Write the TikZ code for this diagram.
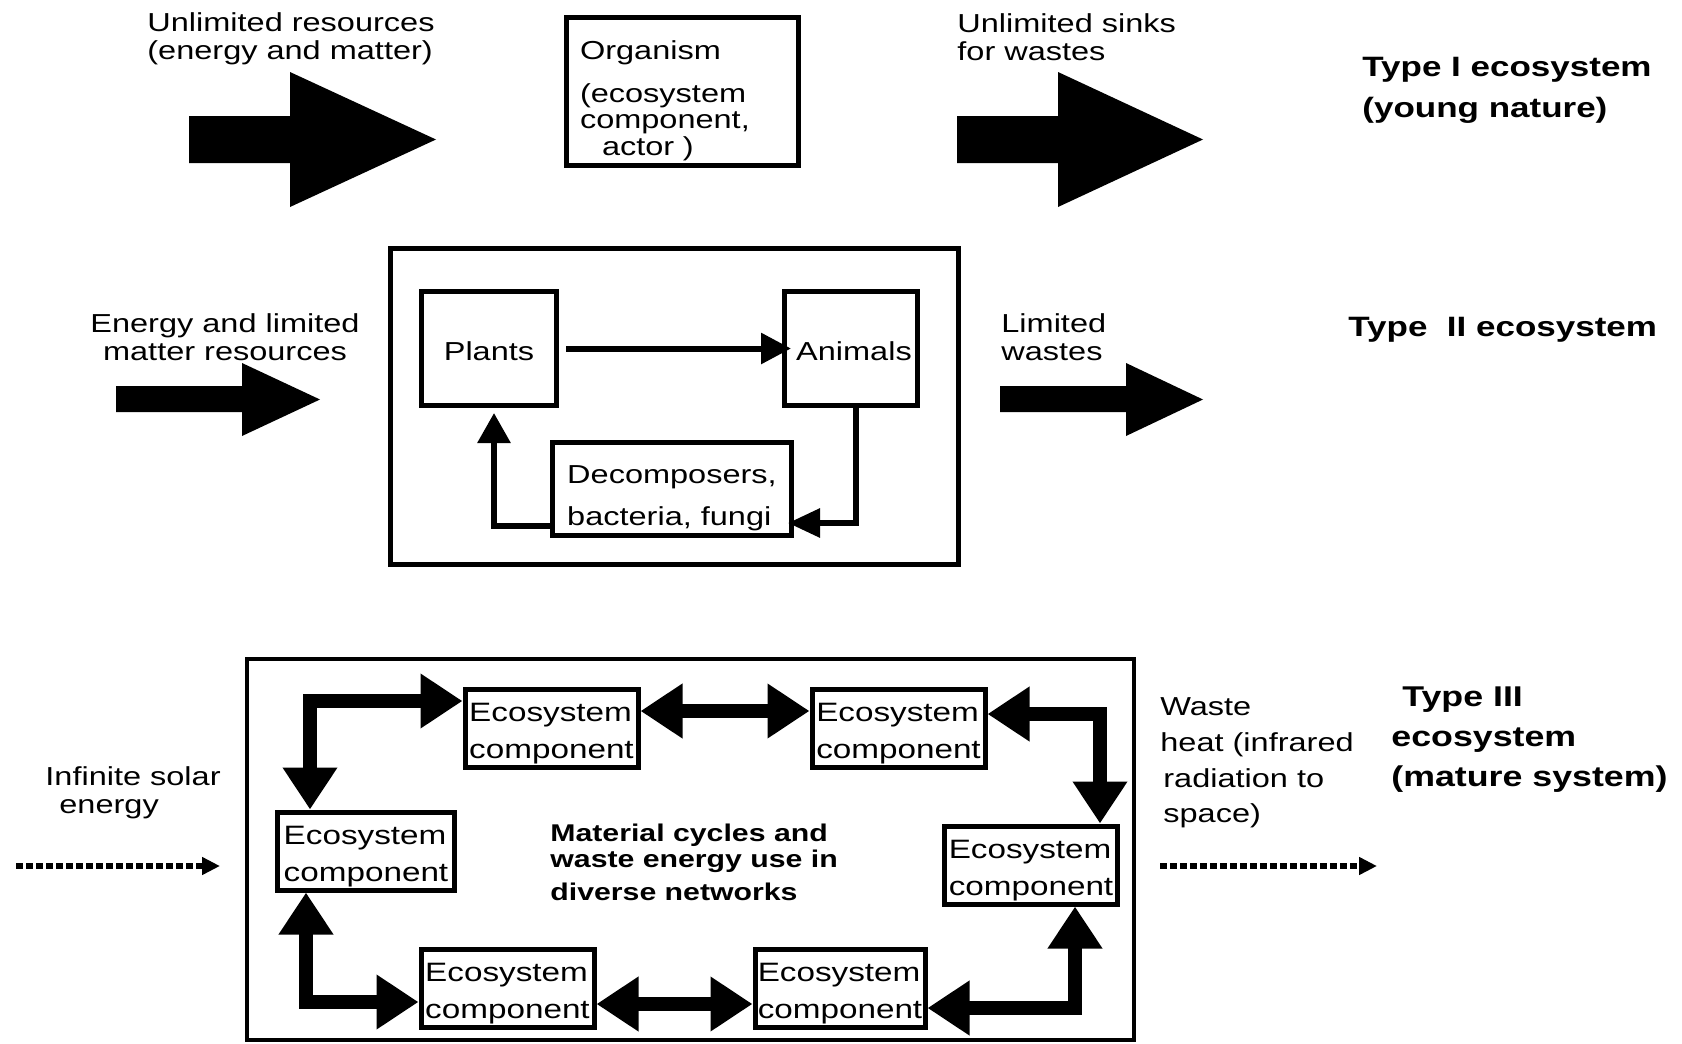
\documentclass[tikz,border=0pt]{standalone}
\usepackage{fontspec}
\setmainfont{Liberation Sans}[FakeStretch=1.25]
\usetikzlibrary{arrows.meta,calc}
\begin{document}
\begin{tikzpicture}[x=0.5pt,y=-0.5pt,
  bigarrow/.style={fill=black},
  reg/.style={font={\fontsize{13}{14}\selectfont}, inner sep=0pt, align=left},
  hd/.style={font={\fontsize{14}{20.5}\selectfont\bfseries}, inner sep=0pt, align=left},
  box/.style={draw, line width=2.5pt, inner sep=0pt},
  comp/.style={box, minimum width=86.5pt, minimum height=39pt, align=left,
    font={\fontsize{13.3}{18.5}\selectfont}},
  flow/.style={line width=3pt, -{Triangle[length=15pt,width=15pt]}},
  fat/.style={line width=7pt, line join=miter,
    {Triangle[length=21pt,width=26pt]}-{Triangle[length=21pt,width=26pt]}},
  dotarrow/.style={line width=3pt, dash pattern=on 3.3pt off 1.7pt,
    -{Triangle[length=9pt,width=8.5pt]}}
]
\useasboundingbox (0,0) rectangle (1682,1044);

% ---------- Type I ----------
\node[reg, anchor=west] (lab1) at (147,39) {Unlimited resources\\(energy and matter)};
\fill[bigarrow] (189,116) -- (290,116) -- (290,72) -- (436,139.5) -- (290,207) -- (290,163) -- (189,163) -- cycle;
\node[box, minimum width=116pt, minimum height=74pt, text width=102pt, align=left,
  font={\fontsize{13}{13.3}\selectfont}] (org) at (682,91)
  {\rule{0pt}{19pt}Organism\\[8pt](ecosystem\\component,\\\hspace*{11pt}actor )};
\node[reg, anchor=west] (lab2) at (957,37) {Unlimited sinks\\for wastes};
\fill[bigarrow] (957,116) -- (1058,116) -- (1058,72) -- (1203,139.5) -- (1058,207) -- (1058,163) -- (957,163) -- cycle;
\node[hd, anchor=west] (type1) at (1362,90) {Type I ecosystem\\(young nature)};

% ---------- Type II ----------
\node[reg, align=center] (lab3) at (225,337) {Energy and limited\\matter resources};
\fill[bigarrow] (116,386) -- (242,386) -- (242,363) -- (320,399.5) -- (242,436) -- (242,412) -- (116,412) -- cycle;
\draw[line width=2.5pt] (390,248) rectangle (958,564);
\node[box, minimum width=67.5pt, minimum height=57pt, font={\fontsize{13}{14}\selectfont}] (plants) at (489,348.5) {\rule{0pt}{12pt}Plants};
\node[box, minimum width=66.5pt, minimum height=57pt, font={\fontsize{13}{14}\selectfont}] (animals) at (851,348.5) {\rule{0pt}{12pt}\hspace*{3pt}Animals};
\node[box, minimum width=119.5pt, minimum height=46.5pt, align=left, font={\fontsize{13}{21}\selectfont}] (decomp) at (672,489) {\rule{0pt}{18.5pt}Decomposers,\\bacteria, fungi};
\draw[flow] ([xshift=3.5pt]plants.east) -- ([xshift=4.5pt]animals.west);
\draw[line width=3pt, -{Triangle[length=16pt,width=14pt]}] ([xshift=2.5pt]animals.south) |- ([xshift=-3pt,yshift=-17pt]decomp.east);
\draw[line width=3pt, -{Triangle[length=15pt,width=16pt]}] ([yshift=-18.5pt]decomp.west) -| ([xshift=2.5pt,yshift=-2.5pt]plants.south);
\node[reg, anchor=west] (lab4) at (1001,337) {Limited\\wastes};
\fill[bigarrow] (1000,386) -- (1126,386) -- (1126,363) -- (1203,399.5) -- (1126,436) -- (1126,412) -- (1000,412) -- cycle;
\node[hd, anchor=west] (type2) at (1348,329.5) {Type\ \ II ecosystem};

% ---------- Type III ----------
\draw[line width=2.2pt] (247,659) rectangle (1134,1040);
\node[comp] (t1) at (551.5,728) {\rule{0pt}{14.5pt}Ecosystem\\component};
\node[comp] (t2) at (898.5,728) {\rule{0pt}{14.5pt}Ecosystem\\component};
\node[comp, minimum width=88.5pt] (L) at (366,851) {\rule{0pt}{14.5pt}Ecosystem\\component};
\node[comp] (R) at (1031,865) {\rule{0pt}{14.5pt}Ecosystem\\component};
\node[comp] (b1) at (507.5,988.5) {\rule{0pt}{14.5pt}Ecosystem\\component};
\node[comp, minimum width=85pt] (b2) at (840,988.5) {\rule{0pt}{14.5pt}Ecosystem\\component};

\draw[fat] ([yshift=13.5pt]t1.west) -| ([xshift=-28pt]L.north);
\draw[fat] ([yshift=8.5pt]t1.east) -- ([yshift=8.5pt]t2.west);
\draw[fat] ([yshift=7pt]t2.east) -| ([xshift=34.5pt]R.north);
\draw[fat] ([xshift=22pt]R.south) |- ([yshift=-9.75pt]b2.east);
\draw[fat] ([yshift=-7.75pt]b1.east) -- ([yshift=-7.75pt]b2.west);
\draw[fat] ([xshift=-30pt]L.south) |- ([yshift=-6.75pt]b1.west);

\node[font={\fontsize{12.1}{13}\selectfont\bfseries}, inner sep=0pt, align=left, anchor=west] (mat) at (550,862)
  {Material cycles and\\waste energy use in\\[3.5pt]diverse networks};

\node[reg, anchor=west] (sunlab) at (45,793) {Infinite solar\\\hspace*{7pt}energy};
\coordinate (sunA) at (16,866);
\coordinate (sunB) at (220,866);
\draw[dotarrow] (sunA) -- (sunB);

\node[font={\fontsize{13}{17.8}\selectfont}, inner sep=0pt, align=left, anchor=west] (heatlab) at (1160,763)
  {Waste\\heat (infrared\\\hspace*{1.5pt}radiation to\\\hspace*{1.5pt}space)};
\coordinate (heatA) at (1160,866);
\coordinate (heatB) at (1377,866);
\draw[dotarrow] (heatA) -- (heatB);

\node[hd, font={\fontsize{14.3}{20}\selectfont\bfseries}, anchor=west] (type3) at (1391,739.5)
  {\hspace*{5.5pt}Type III\\ecosystem\\(mature system)};
\end{tikzpicture}
\end{document}
